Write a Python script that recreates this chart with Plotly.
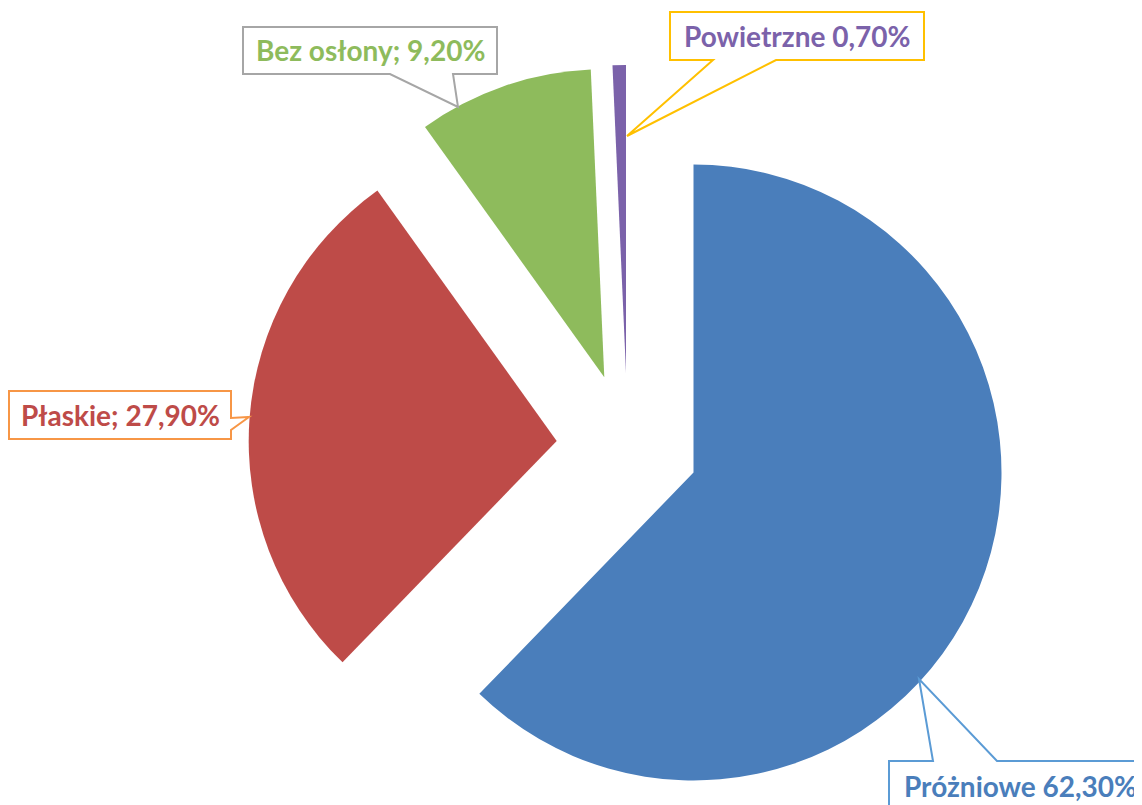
import plotly.graph_objects as go

# ── Datos ───────────────────────────────────────────────
labels = ["Próżniowe", "Płaskie", "Bez osłony", "Powietrzne"]
values = [62.3, 27.9, 9.2, 0.7]
label_sep = [" ", "; ", "; ", " "]

colors = ["#4A7EBB", "#BE4B48", "#8EBB5C", "#7B62AA"]
text_colors = ["#4A7EBB", "#BE4B48", "#8EBB5C", "#7B62AA"]
box_colors = ["#5B9BD5", "#F79646", "#A6A6A6", "#FFC000"]

# la página tiene 8px de margen en el body
OFF = 8
W, H = 1142 - OFF, 805 - OFF
R = 308

# vértice (px de página) de cada porción explotada
apex = [(693.5, 472.5), (556.7, 441.0), (604.3, 377.3), (626.0, 373.0)]

# cajas de etiqueta: contorno del callout en px de página
callouts = [
    [(889, 830), (889, 761), (933, 761), (919, 679), (997, 761), (1160, 761), (1160, 830)],
    [(9, 391), (231, 391), (231, 418), (249, 417), (231, 430), (231, 439), (9, 439)],
    [(243, 27), (497, 27), (497, 74), (453, 74), (458, 107), (390, 74), (243, 74)],
    [(670, 12), (924, 12), (924, 60), (776, 60), (627, 136), (713, 60), (670, 60)],
]
text_pos = [(902, 786, "left"), (120, 415, "center"), (370, 50.5, "center"), (797, 36, "center")]


def px(x, y):
    return (x - OFF) / W, 1 - (y - OFF) / H


fig = go.Figure()

for i, (ax, ay) in enumerate(apex):
    cols = [c if j == i else "rgba(0,0,0,0)" for j, c in enumerate(colors)]
    x0, y1 = px(ax - R, ay - R)
    x1, y0 = px(ax + R, ay + R)
    fig.add_trace(go.Pie(
        labels=labels,
        values=values,
        sort=False,
        direction="clockwise",
        rotation=0,
        textinfo="none",
        marker=dict(colors=cols, line=dict(width=0)),
        domain=dict(x=[x0, x1], y=[y0, y1]),
        showlegend=False,
        hoverinfo="label+percent",
    ))

# ── Etiquetas con callout ───────────────────────────────
for i, pts in enumerate(callouts):
    path = "M " + " L ".join(f"{px(x, y)[0]:.5f},{px(x, y)[1]:.5f}" for x, y in pts) + " Z"
    fig.add_shape(
        type="path", path=path, xref="paper", yref="paper",
        line=dict(color=box_colors[i], width=2),
        fillcolor="white", layer="above",
    )
    tx, ty, anchor = text_pos[i]
    x, y = px(tx, ty)
    txt = f"{labels[i]}{label_sep[i]}{values[i]:.2f}%".replace(".", ",")
    fig.add_annotation(
        x=x, y=y, xref="paper", yref="paper",
        xanchor=anchor, yanchor="middle",
        text=f"<b>{txt}</b>", showarrow=False,
        font=dict(family="Lato", size=28, color=text_colors[i]),
    )

fig.update_layout(
    width=W, height=H,
    margin=dict(l=0, r=0, t=0, b=0),
    paper_bgcolor="white",
    plot_bgcolor="white",
)

fig.write_html("out.html")
